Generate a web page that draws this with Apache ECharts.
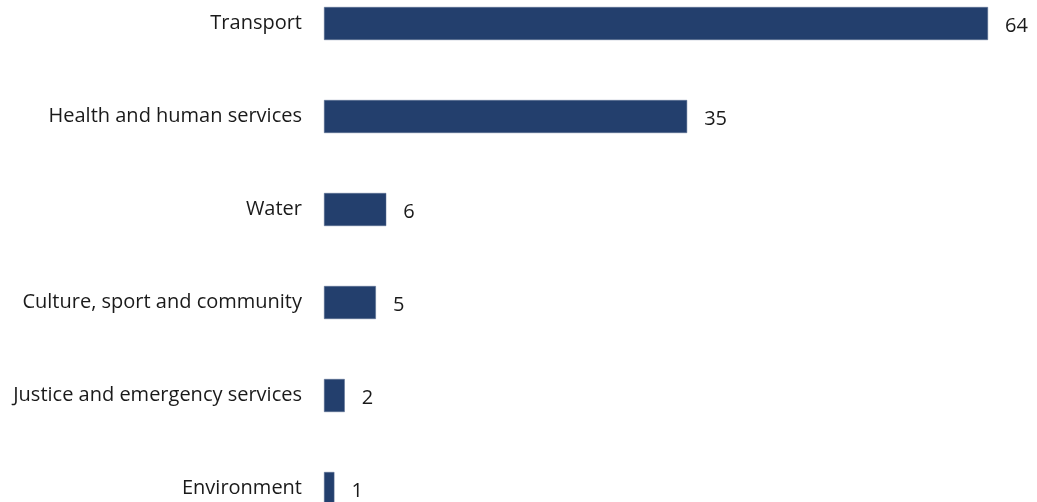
<!DOCTYPE html>
<html>
<head>
<meta charset="utf-8">
<script src="https://cdn.jsdelivr.net/npm/echarts@6/dist/echarts.min.js"></script>
<style>
  html, body { margin: 0; padding: 0; width: 1037px; height: 502px; overflow: hidden; background: #fff; }
  #chart { position: absolute; left: 0; top: -23px; width: 1037px; height: 558px; }
</style>
</head>
<body>
<div id="chart"></div>
<script>
// Projects by sector
const categories = [
  'Transport',
  'Health and human services',
  'Water',
  'Culture, sport and community',
  'Justice and emergency services',
  'Environment'
];
const projectCounts = [64, 35, 6, 5, 2, 1];

const chart = echarts.init(document.getElementById('chart'), null, { renderer: 'canvas' });
const font = '"Open Sans", "Noto Sans", sans-serif';

chart.setOption({
  animation: false,
  grid: { left: 324, right: 49, top: 0, bottom: 0, containLabel: false },
  xAxis: {
    type: 'value',
    min: 0,
    max: 'dataMax',
    show: false
  },
  yAxis: {
    type: 'category',
    data: categories,
    inverse: true,
    axisLine: { show: false },
    axisTick: { show: false },
    splitLine: { show: false },
    axisLabel: {
      margin: 22,
      color: '#1a1a1a',
      fontSize: 20,
      fontFamily: font,
      padding: [3, 0, 0, 0]
    }
  },
  series: [{
    type: 'bar',
    data: projectCounts,
    barWidth: 33,
    itemStyle: { color: '#233f6d', borderColor: '#5a6f93', borderWidth: 0.5 },
    label: {
      show: true,
      position: 'right',
      distance: 17,
      offset: [0, 3],
      color: '#1a1a1a',
      fontSize: 20,
      fontFamily: font
    }
  }]
});
</script>
</body>
</html>
